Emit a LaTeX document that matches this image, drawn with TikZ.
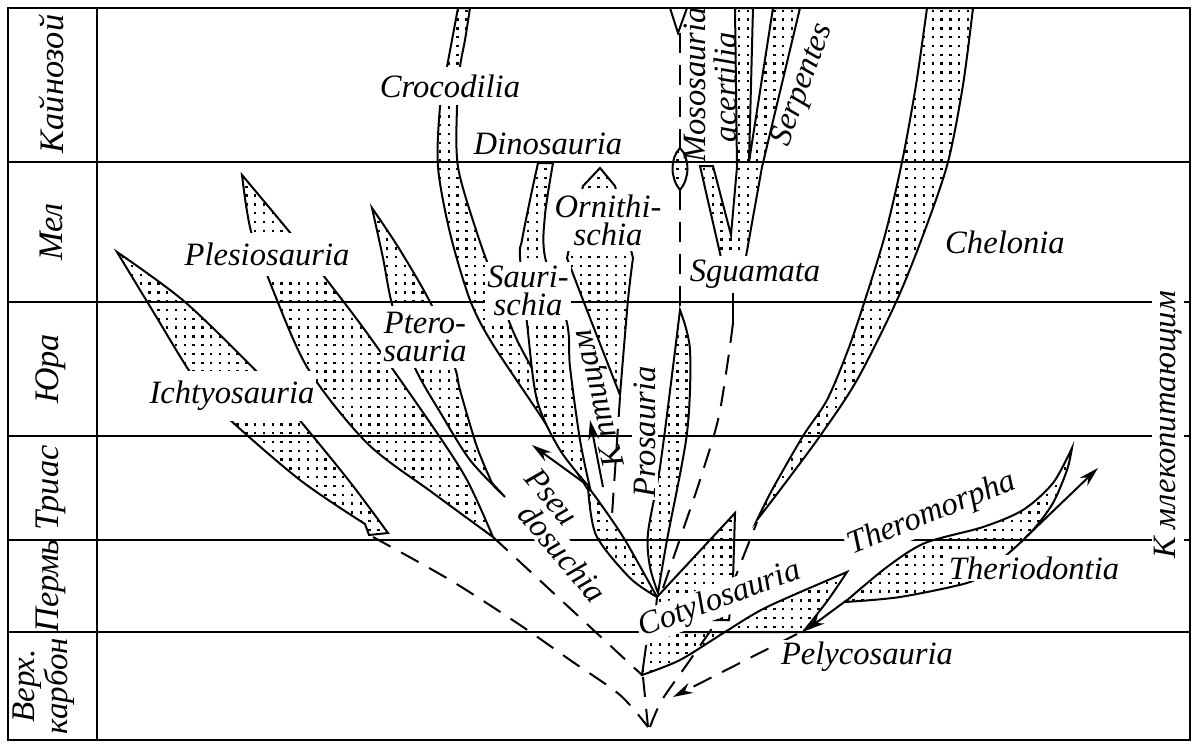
\documentclass[tikz,border=0pt]{standalone}
\usepackage{fontspec}
\setmainfont{Liberation Serif}
\usetikzlibrary{patterns,arrows.meta}
\pgfdeclarepatternformonly{sdots}{\pgfqpoint{-1pt}{-1pt}}{\pgfqpoint{1pt}{1pt}}{\pgfqpoint{4.4pt}{4.4pt}}{\pgfpathrectangle{\pgfqpoint{-0.6pt}{-0.6pt}}{\pgfqpoint{1.2pt}{1.2pt}}\pgfusepath{fill}}
\tikzset{
  band/.style={line width=1pt, draw=black, preaction={fill=white}, pattern=sdots},
  period/.style={line width=1.2pt},
  frame/.style={line width=1.3pt},
  dline/.style={line width=1pt, dash pattern=on 10pt off 6pt},
  arr/.style={line width=1pt, -{Stealth[length=10pt,width=5.5pt]}},
  lbl/.style={font=\fontsize{16.3}{14}\selectfont\itshape, fill=white, inner sep=1pt, align=center},
  lbln/.style={font=\fontsize{16.3}{14}\selectfont\itshape, inner sep=1pt, align=center},
  plbl/.style={font=\fontsize{17.2}{14}\selectfont\itshape, inner sep=1pt, align=center, rotate=90},
}
\begin{document}
\begin{tikzpicture}[x=0.5pt,y=-0.5pt]
\useasboundingbox (0,0) rectangle (1200,750);
% ---------- bands ----------
% Ichtyosauria
\draw[band] plot[smooth] coordinates {(117,252) (154,313) (192,375) (225,415) (300,480) (365,524)} -- (369,535) -- plot[smooth] coordinates {(388,533) (350,482) (297,417) (262,377) (185,302) (117,252)} -- cycle;
% Plesiosauria
\draw[band] plot[smooth] coordinates {(242,175) (246,205) (252,235) (267,275) (307,367) (367,443) (433,493) (493,537)} -- plot[smooth] coordinates {(493,537) (467,480) (433,427) (367,333) (323,275) (292,235) (242,175)} -- cycle;
% Pterosauria
\draw[band] plot[smooth] coordinates {(372,208) (383,258) (393,308) (415,368) (440,412) (470,460) (505,497)} -- plot[smooth] coordinates {(492,483) (477,447) (460,390) (455,368) (433,308) (400,250) (372,208)} -- cycle;
% Crocodilia
\draw[band] plot[smooth] coordinates {(458,8) (452,40) (447,67) (440,107) (438,167) (450,233) (470,300) (492,343) (540,415) (585,485)} -- plot[smooth] coordinates {(585,485) (560,420) (517,340) (495,283) (477,233) (458,167) (457,107) (460,67) (465,40) (470,8)} -- cycle;
% Saurischia
\draw[band] plot[smooth] coordinates {(538,163) (530,200) (522,240) (520,257) (527,323) (537,400) (560,450) (590,488)} -- plot[smooth] coordinates {(590,488) (580,440) (570,367) (567,323) (545,257) (545,215) (553,163)} -- cycle;
% Ornithischia
\draw[band] (600,168) -- (583,186) -- (567,258) -- plot[smooth] coordinates {(567,258) (583,300) (620,395)} -- plot[smooth] coordinates {(620,395) (628,300) (633,258)} -- (615,186) -- cycle;
% Pseudosuchia
\draw[band] plot[smooth] coordinates {(588,487) (596,535) (630,578) (657,597)} -- plot[smooth] coordinates {(657,597) (625,540) (600,503) (588,487)} -- cycle;
% Prosauria
\draw[band] plot[smooth] coordinates {(680,310) (673,367) (660,467) (648,533) (650,567) (658,593)} -- plot[smooth] coordinates {(658,593) (667,540) (687,433) (690,350) (680,310)} -- cycle;
% Chelonia
\draw[band] plot[smooth] coordinates {(927,8) (916,85) (902,162) (885,235) (865,300) (848,350) (827,400) (803,436) (772,490) (757,520)} -- plot[smooth] coordinates {(757,520) (780,490) (820,436) (857,380) (897,300) (925,230) (948,162) (963,85) (973,8)} -- cycle;
% Mososauria lens and tip
\draw[band] (680,148) .. controls (670,158) and (670,178) .. (680,190) .. controls (690,178) and (690,158) .. (680,148) -- cycle;
\draw[line width=1pt] (670,8) -- (678,33) -- (687,8);
% Sguamata (Lacertilia + Serpentes)
\draw[band] (735,8) -- (737,167) -- (731,235) -- (713,166) -- (700,166) -- (722,262) -- (745,262) -- (762,167) -- (800,8) -- (773,8) -- (749,162) -- (753,8) -- cycle;
% Cotylosauria (upper)
\draw[band] (657,597) -- (735,513) -- (733,580) -- (729,620) -- (655,620) -- cycle;
% Pelycosauria + lower Cotylosauria
\draw[band] plot[smooth] coordinates {(642,675) (680,660) (725,632) (767,607) (847,572)} -- plot[smooth] coordinates {(847,572) (828,600) (803,632)} -- (648,632) -- cycle;
% Theromorpha / Theriodontia
\draw[band] plot[smooth] coordinates {(845,602) (887,567) (925,543) (983,527) (1023,510) (1053,483) (1072,448)} -- plot[smooth] coordinates {(1072,448) (1067,470) (1053,503) (1033,530) (1010,552) (985,572) (967,583) (900,597) (845,602)} -- cycle;
% ---------- connectors ----------
\draw[dline] plot[smooth] coordinates {(373,537) (450,580) (520,625) (570,660) (620,695) (648,727)};
\draw[dline] (493,537) -- (642,675);
\draw[dline] (643,677) -- (648,727);
\draw[dline] plot[smooth] coordinates {(650,727) (662,700) (690,660) (720,615) (740,565) (757,522)};
\draw[dline] plot[smooth] coordinates {(733,323) (728,360) (718,420) (700,480) (683,530) (663,588)};
\draw[line width=1pt] (733,293) -- (733,323);
\draw[dline] (680,33) -- (680,148);
\draw[dline] (680,190) -- (680,307);
\draw[dline] (620,397) -- (612,515);
\draw[arr, dash pattern=on 10pt off 6pt] (797,634) -- (673,697);
\draw[arr] (847,600) -- (805,631);
\draw[arr] (1025,538) -- (1098,468);
\draw[arr] (603,487) -- (590,420);
\draw[arr] (583,482) -- (532,445);
% ---------- frame and periods ----------
\draw[period] (8,162) -- (1190,162);
\draw[period] (8,302) -- (1190,302);
\draw[period] (8,436) -- (1190,436);
\draw[period] (8,540) -- (1190,540);
\draw[period] (8,632) -- (1190,632);
\draw[frame] (8,8) rectangle (1190,740);
\draw[frame] (97,8) -- (97,740);
% ---------- period labels ----------
\node[plbl] (kz) at (51,84) {Кайнозой};
\node[plbl] (ml) at (51,232) {Мел};
\node[plbl] (ju) at (51,369) {Юра};
\node[plbl] (tr) at (51,488) {Триас};
\node[plbl] (pr) at (51,586) {Пермь};
\node[plbl, font=\fontsize{16.5}{10.5}\selectfont\itshape] (vk) at (44,686) {Верх.\\карбон};
% ---------- group labels ----------
\node[lbl, inner ysep=4pt] (croc) at (450,86) {Crocodilia};
\node[lbln] (dino) at (548,144) {Dinosauria};
\node[lbl, inner ysep=5pt] (ples) at (267,254) {Plesiosauria};
\node[lbl, inner ysep=5pt] (icht) at (232,396) {Ichtyosauria};
\node[lbl, inner ysep=3pt] (pter) at (425,337) {Ptero-\\sauria};
\node[lbl, inner ysep=2pt] (saur) at (528,291) {Sauri-\\schia};
\node[lbl, inner ysep=3pt] (orni) at (608,220) {Ornithi-\\schia};
\node[lbl, inner ysep=2pt] (sgua) at (755,274) {Sguamata};
\node[lbln] (chel) at (1005,242) {Chelonia};
\node[lbln, rotate=90] (moso) at (695,85) {Mososauria};
\node[lbln, rotate=90] (lace) at (725,87) {acertilia};
\node[lbln, rotate=70] (serp) at (803,85) {Serpentes};
\node[lbl, rotate=90] (pros) at (645,432) {Prosauria};
\node[lbln, rotate=104] (bird) at (600,398) {К птицам};
\node[lbl, rotate=-50] (pse1) at (552,497) {Pseu};
\node[lbl, rotate=-50] (pse2) at (563,553) {dosuchia};
\node[lbl, rotate=20, inner ysep=1pt] (coty) at (720,600) {Cotylosauria};
\node[lbl, rotate=22] (ther) at (932,514) {Theromorpha};
\node[lbl] (theo) at (1034,568) {Theriodontia};
\node[lbl] (pely) at (867,657) {Pelycosauria};
\node[lbl, rotate=90] (mamm) at (1168,425) {К млекопитающим};
\end{tikzpicture}
\end{document}
